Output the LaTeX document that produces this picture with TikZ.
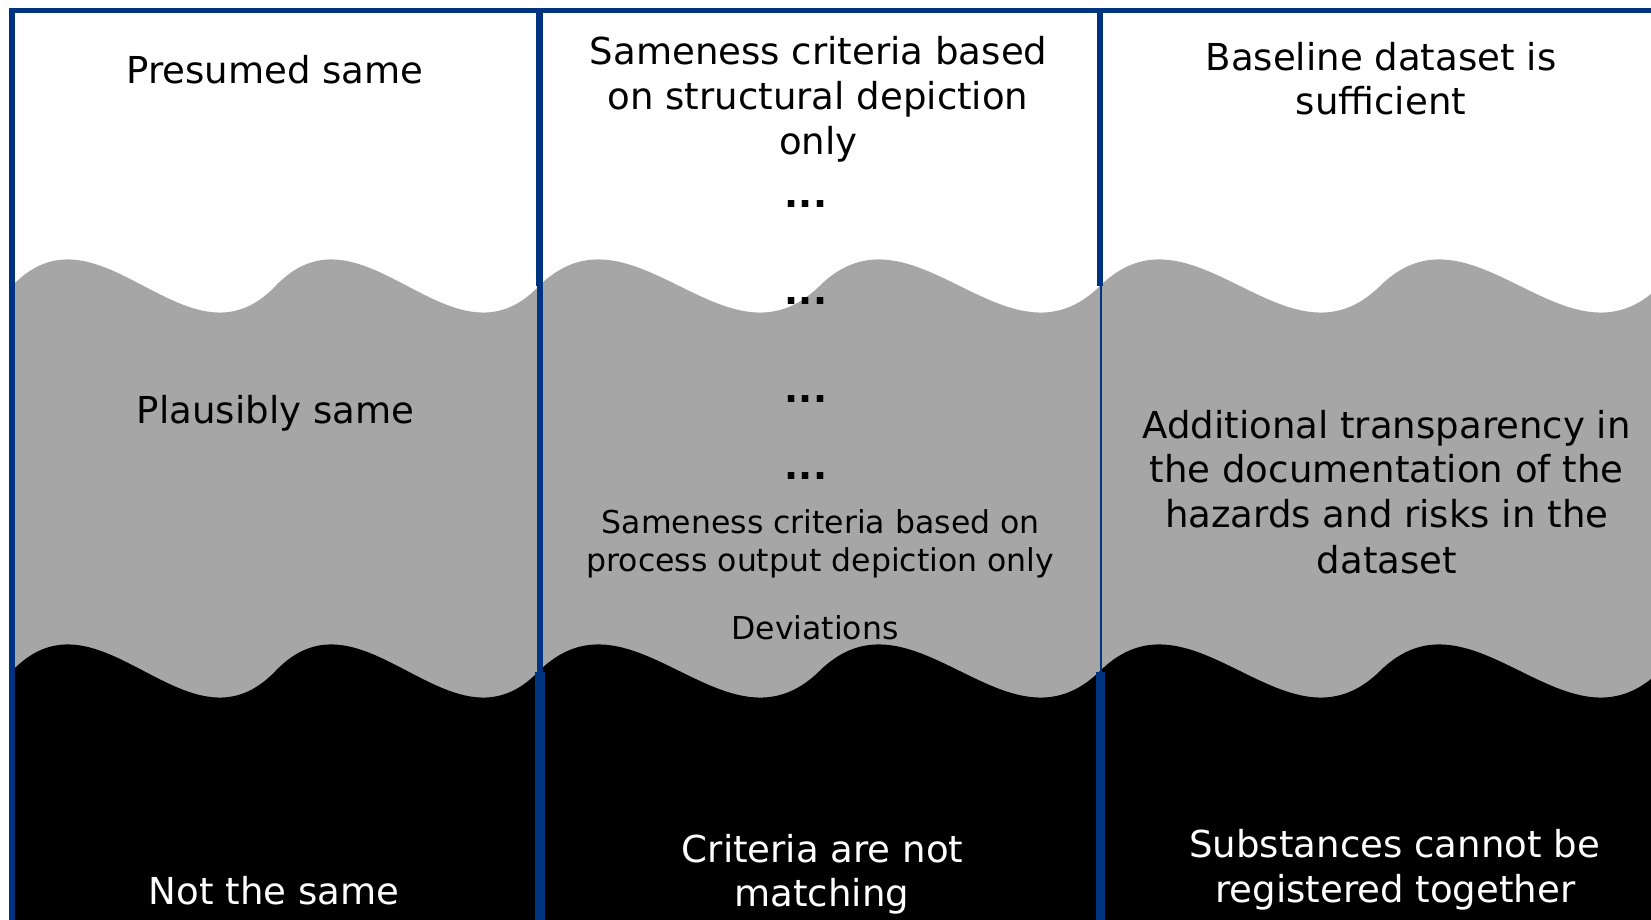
\documentclass[tikz,border=0pt]{standalone}
\usepackage{fontspec}
\setmainfont{DejaVu Sans}
\definecolor{frameblue}{RGB}{0,51,128}
\definecolor{midgray}{RGB}{166,166,166}
\begin{document}
\begin{tikzpicture}[x=0.5pt,y=-0.5pt,
  bigtext/.style={font=\fontsize{18.55pt}{22pt}\selectfont, inner sep=0pt, anchor=base},
  smalltext/.style={font=\fontsize{15.75pt}{19pt}\selectfont, inner sep=0pt, anchor=base},
  dotstext/.style={font=\bfseries\fontsize{18.5pt}{22pt}\selectfont, inner sep=0pt, anchor=center},
  darkzone/.style={text=white},
  blueline/.style={draw=frameblue, line cap=butt}
]
\useasboundingbox (0,0) rectangle (1651,920);
\fill[white] (0,0) rectangle (1651,920);
\begin{scope}
\clip (0,0) rectangle (1651,920);
% gray and black wave bands, one per column
\foreach \xl/\w in {12/527, 539/561, 1100/560}{
  \fill[midgray] (\xl,286) .. controls ({\xl+\w/6},194) and ({\xl+\w/3},378) .. ({\xl+\w/2},286)
     .. controls ({\xl+2*\w/3},194) and ({\xl+5*\w/6},378) .. ({\xl+\w},286)
     -- ({\xl+\w},920) -- (\xl,920) -- cycle;
  \fill[black] (\xl,671) .. controls ({\xl+\w/6},579) and ({\xl+\w/3},763) .. ({\xl+\w/2},671)
     .. controls ({\xl+2*\w/3},579) and ({\xl+5*\w/6},763) .. ({\xl+\w},671)
     -- ({\xl+\w},920) -- (\xl,920) -- cycle;
}
\end{scope}
% frame lines
\draw[blueline, line width=2.25pt] (9.5,10.5) -- (1651,10.5);
\draw[blueline, line width=2.7pt] (12,8.3) -- (12,920);
% divider 1
\draw[blueline, line width=3.5pt] (539.3,8.3) -- (539.3,286);
\draw[blueline, line width=2.7pt] (540,286) -- (540,672);
\draw[blueline, line width=5pt] (540,672) -- (540,920);
% divider 2
\draw[blueline, line width=3pt] (1100.3,8.3) -- (1100.3,286);
\draw[blueline, line width=1.1pt] (1101,286) -- (1101,672);
\draw[blueline, line width=4.6pt] (1100.5,672) -- (1100.5,920);

% column 1
\node[bigtext] (c1top) at (275,84) {Presumed same};
\node[bigtext] (c1mid) at (275.5,423) {Plausibly same};
\node[bigtext, darkzone] (c1bot) at (274,904) {Not the same};

% column 2
\node[bigtext] (c2topa) at (818.7,65) {Sameness criteria based};
\node[bigtext] (c2topb) at (818,110) {on structural depiction};
\node[bigtext] (c2topc) at (818.5,155) {only};
\node[dotstext] (dots1) at (806,204) {...};
\node[dotstext] (dots2) at (806,301.5) {...};
\node[dotstext] (dots3) at (806,399) {...};
\node[dotstext] (dots4) at (806,476.5) {...};
\node[smalltext] (c2mida) at (820.8,533) {Sameness criteria based on};
\node[smalltext] (c2midb) at (820.4,571) {process output depiction only};
\node[smalltext] (c2dev) at (815,639) {Deviations};
\node[bigtext, darkzone] (c2bota) at (822.6,862) {Criteria are not};
\node[bigtext, darkzone] (c2botb) at (821.7,906) {matching};

% column 3
\node[bigtext] (c3topa) at (1381,71) {Baseline dataset is};
\node[bigtext] (c3topb) at (1381,115) {sufficient};
\node[bigtext] (c3mida) at (1386.5,438) {Additional transparency in};
\node[bigtext] (c3midb) at (1386.7,482) {the documentation of the};
\node[bigtext] (c3midc) at (1386.7,527) {hazards and risks in the};
\node[bigtext] (c3midd) at (1387,573) {dataset};
\node[bigtext, darkzone] (c3bota) at (1394.6,857) {Substances cannot be};
\node[bigtext, darkzone] (c3botb) at (1395.4,902) {registered together};
\end{tikzpicture}
\end{document}
